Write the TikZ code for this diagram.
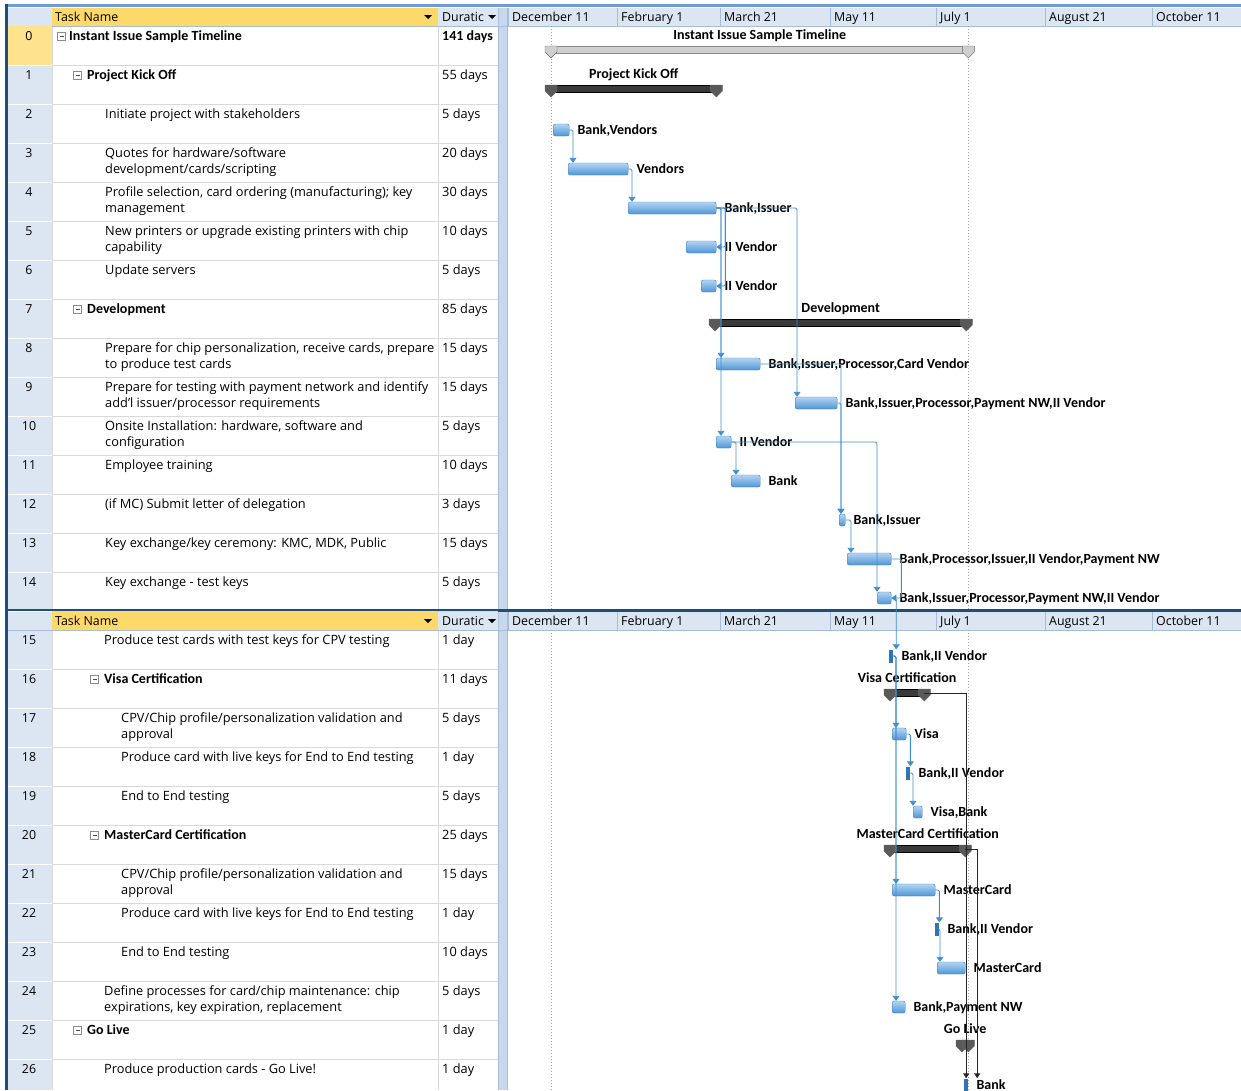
\documentclass[tikz,border=0pt]{standalone}
\usepackage{fontspec}
\setmainfont{Open Sans}
\newfontfamily\barfont{Carlito}
\usetikzlibrary{arrows.meta,calc,positioning}
\definecolor{frameblue}{HTML}{1F4E79}
\definecolor{edgeblue}{HTML}{6F9BD1}
\definecolor{idblue}{HTML}{DCE6F2}
\definecolor{selyellow}{HTML}{FFE38C}
\definecolor{headyellow}{HTML}{FDD96A}
\definecolor{gridgray}{HTML}{D9D9D9}
\definecolor{cellline}{HTML}{A7BCD8}
\definecolor{splitblue}{HTML}{C8D7EC}
\definecolor{barhi}{HTML}{B3D4F2}
\definecolor{barlo}{HTML}{4F95D6}
\definecolor{barline}{HTML}{3A80C2}
\definecolor{barthin}{HTML}{2E75B6}
\definecolor{linkblue}{HTML}{3D8ED0}
\definecolor{sumdark}{HTML}{3A3A3A}
\definecolor{sumlite}{HTML}{CFCFCF}
\tikzset{
  tabtxt/.style={anchor=base west,align=left,font=\fontsize{12.8}{16}\selectfont},
  tabtwo/.style={tabtxt,yshift=-16pt},
  tabbold/.style={anchor=base west,font=\barfont\bfseries\fontsize{14}{16}\selectfont},
  headtxt/.style={anchor=base west,font=\fontsize{12.4}{14}\selectfont},
  gbar/.style={draw=barline,top color=barhi,bottom color=barlo,rounded corners=2pt,minimum height=12pt,anchor=west},
  gthin/.style={fill=barthin,minimum height=13pt,anchor=west},
  blab/.style={anchor=west,font=\barfont\bfseries\fontsize{14}{16}\selectfont,text height=10pt,text depth=2pt},
  sumdk/.style={draw=black,fill=sumdark,minimum height=7pt,anchor=west},
  sumlt/.style={draw=black!45,fill=sumlite,minimum height=7pt,anchor=west},
  slab/.style={font=\barfont\bfseries\fontsize{14}{16}\selectfont,text height=9pt,text depth=2.5pt},
  link/.style={linkblue,line width=.9pt,rounded corners=1.5pt,-{Triangle[width=7pt,length=5pt]}},
  blink/.style={black!85,line width=.9pt,-{Triangle[width=6pt,length=5pt]}},
  minbox/.style={draw=black!45,fill=white,minimum size=8pt,
    path picture={\draw[black!70] ([xshift=2pt]path picture bounding box.west) -- ([xshift=-2pt]path picture bounding box.east);}},
  sumcap/.pic={\filldraw[fill=#1,draw=black!60] (-6,-4) -- (6,-4) -- (6,2) -- (0,8) -- (-6,2) -- cycle;}
}
\begin{document}
\begin{tikzpicture}[x=1pt,y=-1pt,every node/.style={inner sep=0pt}]
\useasboundingbox (0,0) rectangle (1241,1090);
\fill[white] (0,0) rectangle (1241,1090);
% two panes, header at \py
\foreach \py/\pb/\pn in {8/610/a,612/1090/b}{
  \fill[idblue] (8,\py) rectangle (52,\pb);
  \fill[splitblue] (498,\py) rectangle (508,\pb);
  \draw[cellline] (498.5,\py) -- (498.5,\pb) (507.5,\py) -- (507.5,\pb);
  \draw[gridgray] (52,\py) -- (52,\pb) (438,\py) -- (438,\pb);
  \fill[headyellow] (52,\py) rectangle (438,\py+18);
  \fill[idblue] (438,\py) rectangle (498,\py+18) (508,\py) rectangle (1241,\py+18);
  \draw[cellline] (8,\py+18) -- (1241,\py+18);
  \node[headtxt] (th\pn) at (55,\py+13) {Task Name};
  \node[headtxt] (dh\pn) at (442,\py+13) {Duratic};
  \fill (424,\py+7) -- (432,\py+7) -- (428,\py+11) -- cycle;
  \fill (488,\py+7) -- (496,\py+7) -- (492,\py+11) -- cycle;
  \foreach \t/\x in {December 11/508,February 1/617,March 21/720,May 11/830,July 1/936,August 21/1045,October 11/1152}{
    \draw[cellline] (\x,\py) -- (\x,\py+18);
    \node[headtxt] (ts\pn\x) at (\x+4,\py+13) {\t};}
  \draw[black!35,dash pattern=on 1pt off 2pt] (551,\py+18) -- (551,\pb) (968,\py+18) -- (968,\pb);
}
\fill[edgeblue] (5,4) rectangle (1241,7);
\fill[frameblue] (5,4) rectangle (8,1090);
\fill[frameblue] (5,609) rectangle (1241,612);
\fill[selyellow] (8,26) rectangle (52,65);
% rows
\foreach \k in {0,...,26}{
  \pgfmathsetmacro{\ry}{\k<15 ? 26+39*\k : 45+39*\k}
  \draw[white,line width=1pt] (8,\ry+39) -- (52,\ry+39);
  \draw[gridgray] (52,\ry+39) -- (498,\ry+39);
  \node[headtxt,anchor=base] (id\k) at (29,\ry+14) {\k};}
\foreach \k/\tx/\st/\txt/\dur in {
  0/69/tabbold/{Instant Issue Sample Timeline}/{\barfont\bfseries\fontsize{14}{16}\selectfont 141 days},
  1/87/tabbold/{Project Kick Off}/{55 days},
  2/105/tabtxt/{Initiate project with stakeholders}/{5 days},
  3/105/tabtwo/{Quotes for hardware/software\\development/cards/scripting}/{20 days},
  4/105/tabtwo/{Profile selection, card ordering (manufacturing); key\\management}/{30 days},
  5/105/tabtwo/{New printers or upgrade existing printers with chip\\capability}/{10 days},
  6/105/tabtxt/{Update servers}/{5 days},
  7/87/tabbold/{Development}/{85 days},
  8/105/tabtwo/{Prepare for chip personalization, receive cards, prepare\\to produce test cards}/{15 days},
  9/105/tabtwo/{Prepare for testing with payment network and identify\\add'l issuer/processor requirements}/{15 days},
  10/105/tabtwo/{Onsite Installation: hardware, software and\\configuration}/{5 days},
  11/105/tabtxt/{Employee training}/{10 days},
  12/105/tabtxt/{(if MC) Submit letter of delegation}/{3 days},
  13/105/tabtxt/{Key exchange/key ceremony: KMC, MDK, Public}/{15 days},
  14/105/tabtxt/{Key exchange - test keys}/{5 days},
  15/104/tabtxt/{Produce test cards with test keys for CPV testing}/{1 day},
  16/104/tabbold/{Visa Certification}/{11 days},
  17/121/tabtwo/{CPV/Chip profile/personalization validation and\\approval}/{5 days},
  18/121/tabtxt/{Produce card with live keys for End to End testing}/{1 day},
  19/121/tabtxt/{End to End testing}/{5 days},
  20/104/tabbold/{MasterCard Certification}/{25 days},
  21/121/tabtwo/{CPV/Chip profile/personalization validation and\\approval}/{15 days},
  22/121/tabtxt/{Produce card with live keys for End to End testing}/{1 day},
  23/121/tabtxt/{End to End testing}/{10 days},
  24/104/tabtwo/{Define processes for card/chip maintenance: chip\\expirations, key expiration, replacement}/{5 days},
  25/87/tabbold/{Go Live}/{1 day},
  26/104/tabtxt/{Produce production cards - Go Live!}/{1 day}}{
  \pgfmathsetmacro{\ry}{\k<15 ? 26+39*\k : 45+39*\k}
  \node[\st] (tn\k) at (\tx,\ry+14) {\txt};
  \node[tabtxt] (du\k) at (442,\ry+14) {\dur};}
\foreach \k/\bx in {0/61.5,1/77.5,7/77.5,16/94.5,20/94.5,25/77.5}{
  \pgfmathsetmacro{\ry}{\k<15 ? 26+39*\k : 45+39*\k}
  \node[minbox] (mb\k) at (\bx,\ry+10) {};}
% summary bars
\foreach \n/\a/\b/\sty/\cf/\lab in {
  0/551/968/sumlt/sumlite/{Instant Issue Sample Timeline},
  1/551/716/sumdk/black!65/{Project Kick Off},
  7/715/966/sumdk/black!65/{Development},
  16/890/924/sumdk/black!65/{Visa Certification},
  20/890/965/sumdk/black!65/{MasterCard Certification},
  25/962/968/sumdk/black!65/{Go Live}}{
  \pgfmathsetmacro{\ry}{\n<15 ? 26+39*\n : 45+39*\n}
  \node[\sty,minimum width={\b-\a}] (s\n) at (\a,\ry+24) {};
  \pic at (s\n.west) {sumcap=\cf};
  \pic at (s\n.east) {sumcap=\cf};
  \node[slab,above=4.5pt of s\n] (sl\n) {\lab};}
% task bars
\foreach \n/\a/\b/\lab in {
  2/553/569/{Bank,Vendors}, 3/568/628/Vendors, 4/628/716/{Bank,Issuer},
  5/686/716/{II Vendor}, 6/701/716/{II Vendor},
  8/716/760/{Bank,Issuer,Processor,Card Vendor},
  9/795/837/{Bank,Issuer,Processor,Payment NW,II Vendor},
  10/716/731/{II Vendor}, 11/731/760/Bank, 12/839/845/{Bank,Issuer},
  13/847/891/{Bank,Processor,Issuer,II Vendor,Payment NW},
  14/877/891/{Bank,Issuer,Processor,Payment NW,II Vendor},
  17/892/906/Visa, 19/913/922/{Visa,Bank}, 21/892/935/MasterCard,
  23/937/965/MasterCard, 24/892/905/{Bank,Payment NW}}{
  \pgfmathsetmacro{\ry}{\n<15 ? 26+39*\n : 45+39*\n}
  \node[gbar,minimum width={\b-\a}] (b\n) at (\a,\ry+26) {};
  \node[blab,right=8pt of b\n] (l\n) {\lab};}
\foreach \n/\a/\lab in {15/889/{Bank,II Vendor},18/906/{Bank,II Vendor},22/935/{Bank,II Vendor},26/964/Bank}{
  \pgfmathsetmacro{\ry}{45+39*\n}
  \node[gthin,minimum width=4pt] (b\n) at (\a,\ry+26) {};
  \node[blab,right=8pt of b\n] (l\n) {\lab};}
% links
\draw[link] (b2.east) -| ($(b3.north west)+(5,0)$);
\draw[link] (b3.east) -| ($(b4.north west)+(4,0)$);
\draw[link] (b4.east) -- ++(9,0) |- (b5.east);
\draw[link] (b4.east) -- ++(9,0) |- (b6.east);
\draw[link] (b4.east) -| ($(b8.north west)+(5,0)$);
\draw[link] (b4.east) -| ($(b10.north west)+(5,0)$);
\draw[link] (b4.east) -| ($(b9.north west)+(2,0)$);
\draw[link] (b8.east) -| ($(b12.north west)+(2,0)$);
\draw[link] (b9.east) -| ($(b12.north west)+(2,0)$);
\draw[link] (b10.east) -| ($(b11.north west)+(5,0)$);
\draw[link] (b10.east) -| (b14.north west);
\draw[link] (b12.east) -| ($(b13.north west)+(4,0)$);
\draw[link] (b13.east) -- ++(10,0) |- (b14.east);
\draw[link] (b14.east) -| ($(b15.north)+(5,0)$);
\draw[link] (b15.east) -| ($(b17.north west)+(4,0)$);
\draw[link] (b15.east) -| ($(b21.north west)+(4,0)$);
\draw[link] (b15.east) -| ($(b24.north west)+(4,0)$);
\draw[link] (b17.east) -| (b18.north east);
\draw[link] (b18.east) -| (b19.north west);
\draw[link] (b21.east) -| (b22.north east);
\draw[link] (b22.east) -| ($(b23.north west)+(3,0)$);
\draw[blink] (s16.east) -| (b26.north);
\draw[blink] (s20.east) -| ($(b26.north)+(11,0)$);
\end{tikzpicture}
\end{document}
